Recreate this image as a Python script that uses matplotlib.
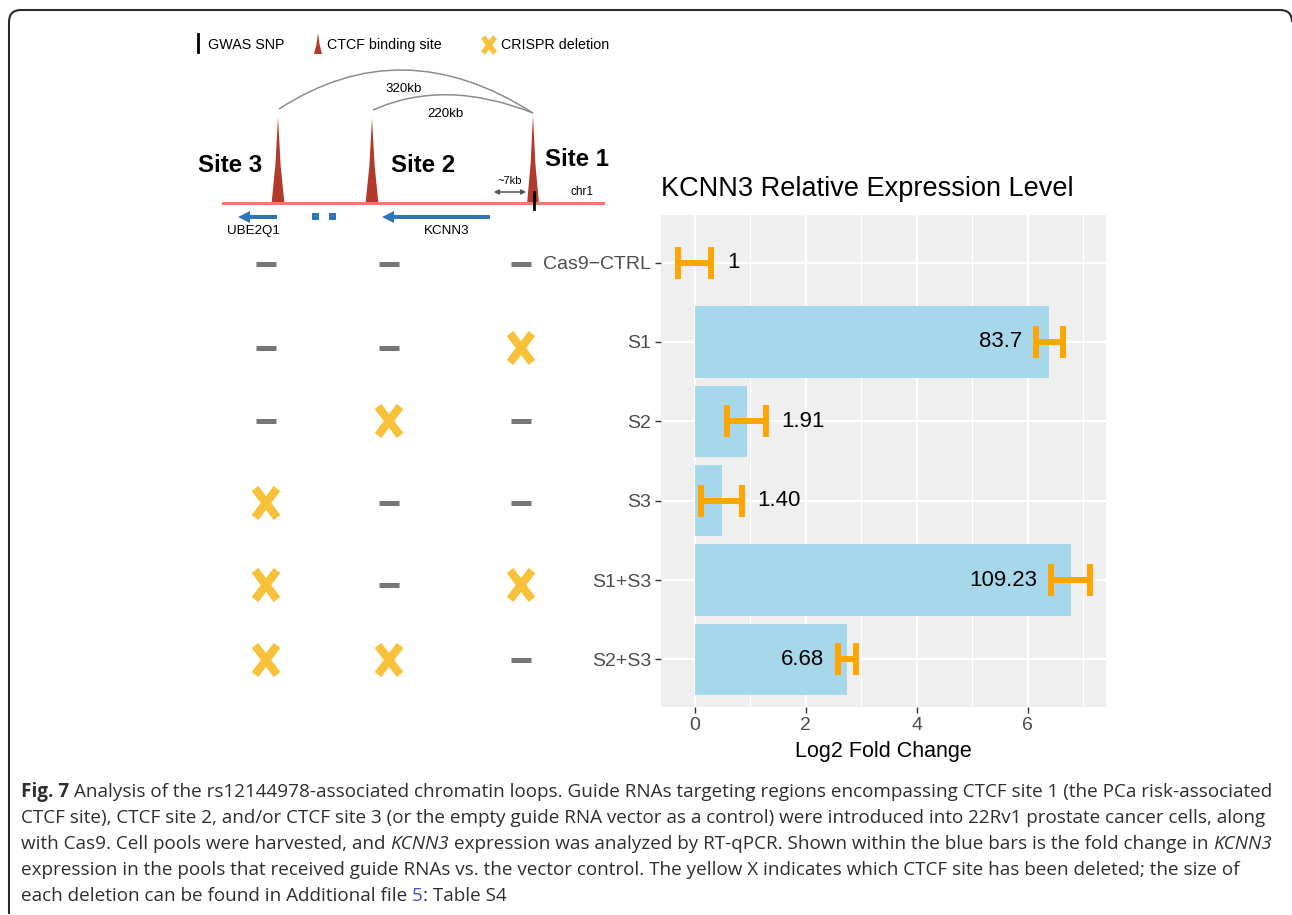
import numpy as np
import matplotlib
matplotlib.use('Agg')
import matplotlib.pyplot as plt
from matplotlib.path import Path
from matplotlib.patches import PathPatch, Polygon

W, H = 1292, 915

# qPCR results (fold change vs Cas9 control) and replicate spread in log2 units
conditions = ['Cas9\u2212CTRL', 'S1', 'S2', 'S3', 'S1+S3', 'S2+S3']
fold_labels = ['1', '83.7', '1.91', '1.40', '109.23', '6.68']
fold_change = [1.0, 83.7, 1.91, 1.40, 109.23, 6.68]
log2_sd = [0.30, 0.24, 0.35, 0.37, 0.35, 0.16]

# which CTCF site was deleted in each pool (columns: site 3, site 2, site 1)
deleted = [
    [0, 0, 0],
    [0, 0, 1],
    [0, 1, 0],
    [1, 0, 0],
    [1, 0, 1],
    [1, 1, 0],
]

caption_lines = [
    [("Fig. 7", 'bold'), (" Analysis of the rs12144978-associated chromatin loops. Guide RNAs targeting regions "
                          "encompassing CTCF site 1 (the PCa risk-associated", 'normal')],
    [("CTCF site), CTCF site 2, and/or CTCF site 3 (or the empty guide RNA vector as a control) were "
      "introduced into 22Rv1 prostate cancer cells, along", 'normal')],
    [("with Cas9. Cell pools were harvested, and ", 'normal'), ("KCNN3", 'italic'),
     (" expression was analyzed by RT-qPCR. Shown within the blue bars is the fold change in ", 'normal'),
     ("KCNN3", 'italic')],
    [("expression in the pools that received guide RNAs vs. the vector control. The yellow X indicates "
      "which CTCF site has been deleted; the size of", 'normal')],
    [("each deletion can be found in Additional file ", 'normal'), ("5", 'link'), (": Table S4", 'normal')],
]

SANS = 'Liberation Sans'
CAP_FONT = 'Open Sans'
RED = '#B23A2A'
YELLOW = '#F8C13A'
BLUE = '#2F74B8'

fig = plt.figure(figsize=(W / 100, H / 100), dpi=100)
canvas = fig.add_axes([0, 0, 1, 1])
canvas.set_xlim(0, W)
canvas.set_ylim(H, 0)
canvas.axis('off')


def peak(ax, x, ytop, ybase, hw):
    pts = [(x - hw, ybase), (x - hw * 0.4, ybase - (ybase - ytop) * 0.45), (x, ytop),
           (x + hw * 0.4, ybase - (ybase - ytop) * 0.45), (x + hw, ybase)]
    ax.add_patch(Polygon(pts, closed=True, color=RED, lw=0))


def xmark(ax, x, y, w, h, lw):
    ax.plot([x - w, x + w], [y - h, y + h], color=YELLOW, lw=lw, solid_capstyle='butt')
    ax.plot([x - w, x + w], [y + h, y - h], color=YELLOW, lw=lw, solid_capstyle='butt')


def dash(ax, x, y):
    ax.plot([x - 10, x + 10], [y, y], color='#777777', lw=3.6, solid_capstyle='butt')


def arc(ax, p0, ctrl, p1):
    path = Path([p0, ctrl, p1], [Path.MOVETO, Path.CURVE3, Path.CURVE3])
    ax.add_patch(PathPatch(path, fc='none', ec='#8C8C8C', lw=1.1))


# frame around the figure panel
frame = Path([(9, 914), (9, 22), (9, 10), (21, 10), (1280, 10), (1292, 10), (1292, 22)],
             [Path.MOVETO, Path.LINETO, Path.CURVE3, Path.CURVE3, Path.LINETO, Path.CURVE3, Path.CURVE3])
canvas.add_patch(PathPatch(frame, fc='none', ec='#2B2B2B', lw=1.5))

# legend strip
canvas.plot([198, 198], [34, 52], color='black', lw=2)
canvas.text(208, 45, 'GWAS SNP', family=SANS, fontsize=10.3, va='center')
peak(canvas, 318, 33, 54, 4)
canvas.text(327, 45, 'CTCF binding site', family=SANS, fontsize=10.3, va='center')
xmark(canvas, 489, 45, 6, 8, 3.8)
canvas.text(501, 45, 'CRISPR deletion', family=SANS, fontsize=10.3, va='center')

# locus schematic
chr_y = 203
canvas.plot([223, 603], [chr_y, chr_y], color='#F07870', lw=2.2)
site_x = {3: 278, 2: 372, 1: 533}
peak(canvas, site_x[3], 117, chr_y + 1, 6.5)
peak(canvas, site_x[2], 118, chr_y + 1, 6.5)
peak(canvas, site_x[1], 115, chr_y + 1, 6)
arc(canvas, (279, 109), (402, 29), (533, 113))
arc(canvas, (373, 110), (445, 78), (533, 113))
canvas.text(404, 89, '320kb', family=SANS, fontsize=9.6, ha='center', va='center')
canvas.text(445, 114, '220kb', family=SANS, fontsize=9.6, ha='center', va='center')
canvas.text(230, 165, 'Site 3', family=SANS, fontsize=17.3, weight='bold', ha='center', va='center')
canvas.text(423, 165, 'Site 2', family=SANS, fontsize=17.3, weight='bold', ha='center', va='center')
canvas.text(577, 160, 'Site 1', family=SANS, fontsize=17.3, weight='bold', ha='center', va='center')
canvas.annotate('', xy=(491, 192), xytext=(529, 192),
                arrowprops=dict(arrowstyle='<|-|>', color='#555555', lw=1.1, mutation_scale=7))
canvas.text(510, 181, '~7kb', family=SANS, fontsize=8, ha='center', va='center')
canvas.text(582, 192, 'chr1', family=SANS, fontsize=8.5, ha='center', va='center')
canvas.plot([534, 534], [192, 209], color='black', lw=2)

canvas.arrow(277, 217, -39, 0, width=4, head_width=12, head_length=12,
             length_includes_head=True, color=BLUE, lw=0)
canvas.arrow(490, 217, -108, 0, width=4, head_width=12, head_length=12,
             length_includes_head=True, color=BLUE, lw=0)
for bx in (315, 332):
    canvas.add_patch(plt.Rectangle((bx - 3.5, 213), 7, 7, color=BLUE, lw=0))
canvas.text(253, 231, 'UBE2Q1', family=SANS, fontsize=9.6, ha='center', va='center')
canvas.text(447, 231, 'KCNN3', family=SANS, fontsize=9.6, ha='center', va='center')

# deletion matrix beside the bars
col_x = [266, 389, 521]
row_y = [264, 348, 421, 503, 585, 660]
for ry, flags in zip(row_y, deleted):
    for cx, flag in zip(col_x, flags):
        if flag:
            xmark(canvas, cx, ry, 11, 14.5, 6.0)
        else:
            dash(canvas, cx, ry)

# bar chart of log2 fold change
log2fc = np.log2(fold_change)
ypos = np.arange(len(conditions))
ax = fig.add_axes([661 / W, 1 - 707 / H, 445 / W, 492 / H])
ax.set_facecolor('#EFEFEF')
ax.barh(ypos, log2fc, height=0.9, color='#A6D7EB', zorder=2)
ax.errorbar(log2fc, ypos, xerr=log2_sd, fmt='none', ecolor='#FFA500',
            elinewidth=4.3, capsize=11.5, capthick=4.3, zorder=3)
for yy, v, sd, lab in zip(ypos, log2fc, log2_sd, fold_labels):
    if v > 2:
        ax.annotate(lab, (v - sd, yy), xytext=(-10, 0), textcoords='offset points',
                    ha='right', va='center', family=SANS, fontsize=16, zorder=4)
    else:
        ax.annotate(lab, (v + sd, yy), xytext=(11, 0), textcoords='offset points',
                    ha='left', va='center', family=SANS, fontsize=16, zorder=4)

ax.set_xlim(-0.61, 7.41)
ax.set_ylim(5.6, -0.6)
ax.set_xticks([0, 2, 4, 6])
ax.set_xticks([1, 3, 5, 7], minor=True)
ax.set_yticks(ypos)
ax.set_yticklabels(conditions)
ax.grid(which='major', color='white', lw=1.6, zorder=1)
ax.grid(which='minor', axis='x', color='white', lw=0.8, zorder=1)
ax.set_axisbelow(True)
for s in ax.spines.values():
    s.set_visible(False)
ax.tick_params(which='major', length=4, width=1, color='#333333', labelcolor='#4D4D4D', labelsize=14, pad=3)
ax.tick_params(which='minor', length=0)
for t in ax.get_xticklabels() + ax.get_yticklabels():
    t.set_family(SANS)
ax.set_title('KCNN3 Relative Expression Level', loc='left', family=SANS, fontsize=19.5, pad=13.5)
ax.set_xlabel('Log2 Fold Change', family=SANS, fontsize=15.5, labelpad=5)

# caption, drawn segment by segment so bold/italic runs line up
renderer = fig.canvas.get_renderer()


def seg_style(kind):
    st = dict(family=CAP_FONT, fontsize=13.6, color='#2E2E2E')
    if kind == 'bold':
        st['weight'] = 'bold'
    elif kind == 'italic':
        st['style'] = 'italic'
    elif kind == 'link':
        st['color'] = '#3A52C9'
    return st


probe_a = canvas.text(0, 0, 'x x', **seg_style('normal'))
probe_b = canvas.text(0, 0, 'xx', **seg_style('normal'))
space_w = probe_a.get_window_extent(renderer).width - probe_b.get_window_extent(renderer).width
probe_a.remove()
probe_b.remove()

base_y = 797
for i, line in enumerate(caption_lines):
    x = 21
    y = base_y + i * 25.9
    for text, kind in line:
        lead = len(text) - len(text.lstrip(' '))
        trail = len(text) - len(text.rstrip(' '))
        x += lead * space_w
        body = text.strip(' ')
        t = canvas.text(x, y, body, va='baseline', ha='left', **seg_style(kind))
        x += t.get_window_extent(renderer).width + trail * space_w

fig.savefig('out.png', dpi=100)
